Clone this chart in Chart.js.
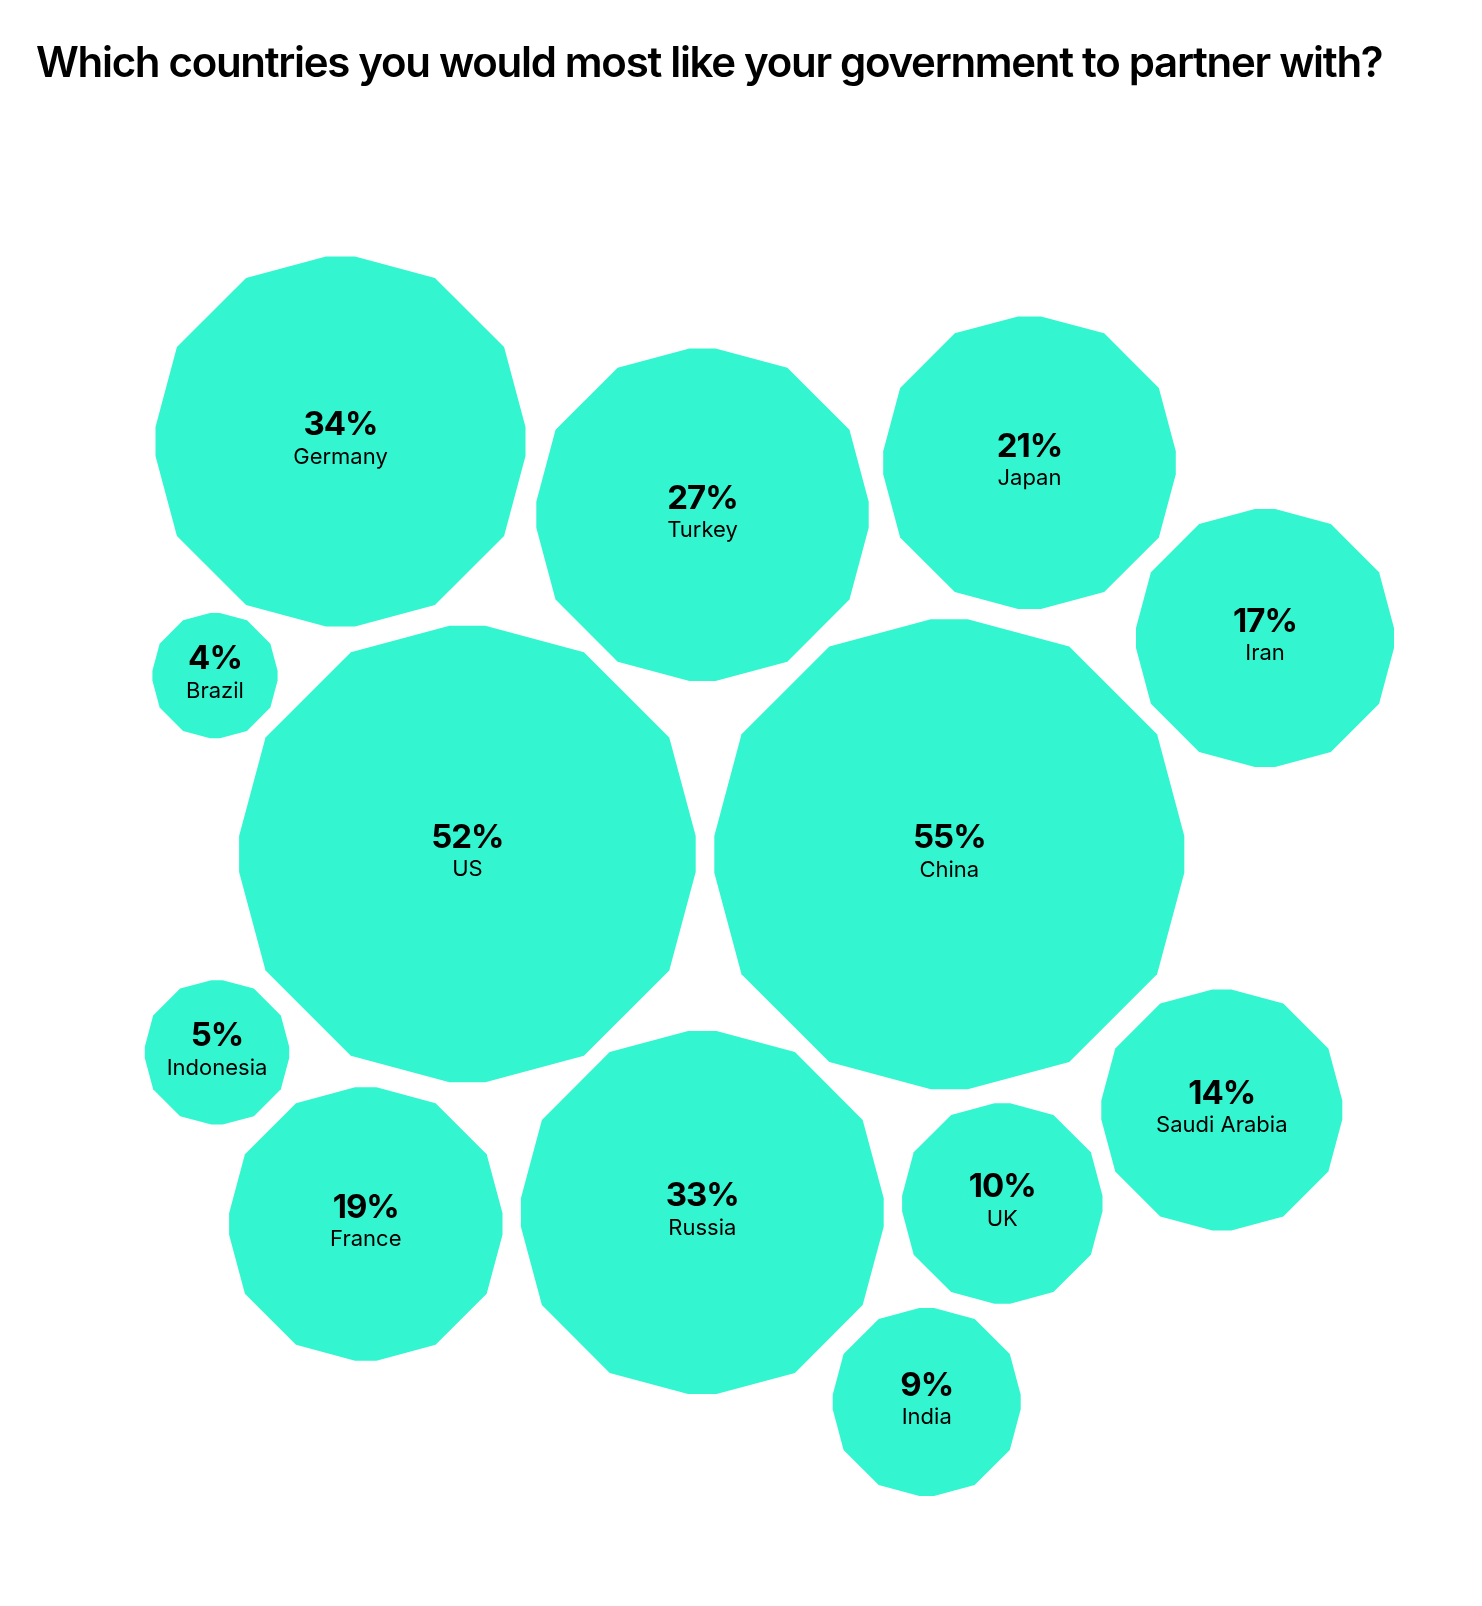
<!DOCTYPE html>
<html>
<head>
<meta charset="utf-8">
<title>Which countries you would most like your government to partner with?</title>
<script src="https://cdn.jsdelivr.net/npm/chart.js@4"></script>
<style>
  html, body { margin: 0; padding: 0; background: #fff; }
  #wrap { position: relative; width: 1482px; height: 1606px; }
</style>
</head>
<body>
<div id="wrap"><canvas id="bubbles"></canvas></div>
<script>
const titleText = 'Which countries you would most like your government to partner with?';
const countries = ['Germany', 'Turkey', 'Japan', 'Iran', 'Brazil', 'US', 'China', 'Indonesia', 'Saudi Arabia', 'Russia', 'UK', 'France', 'India'];
const shares = [34, 27, 21, 17, 4, 52, 55, 5, 14, 33, 10, 19, 9];

// packed layout, hidden axes run in the same units
const centreX = [340.5, 702.5, 1029.5, 1265, 215, 467.4, 949.3, 217, 1221.8, 702.3, 1002.3, 365.8, 926.7];
const centreY = [441.5, 514.7, 462.7, 638, 675.6, 854, 854.3, 1052.4, 1110, 1212.5, 1203.5, 1224, 1402];
const radii = [185, 166.2, 146.3, 129, 62.6, 228.3, 235, 72.2, 120.5, 181.4, 100.2, 136.7, 94];

const FILL = '#33f6d0';
const FONT = 'Inter, "Open Sans", sans-serif';

// 12-sided shape with its four axis tips cut flat, built from one quadrant
function polygonPath(ctx, x, y, r) {
  const tip = r * 1.021;
  const flat = (tip - r) / Math.tan(Math.PI / 12);
  const a = tip * 0.5;
  const b = tip * Math.cos(Math.PI / 6);
  const quad = [[flat, -r], [a, -b], [b, -a], [r, -flat]];
  ctx.beginPath();
  quad.forEach(p => ctx.lineTo(x + p[0], y + p[1]));
  quad.slice().reverse().forEach(p => ctx.lineTo(x + p[0], y - p[1]));
  quad.forEach(p => ctx.lineTo(x - p[0], y - p[1]));
  quad.slice().reverse().forEach(p => ctx.lineTo(x - p[0], y + p[1]));
  ctx.closePath();
}

const polygonBubbles = {
  id: 'polygonBubbles',
  beforeDraw(chart) {
    // the title is set tight
    chart.ctx.letterSpacing = '-1.3px';
  },
  afterDatasetsDraw(chart) {
    const ctx = chart.ctx;
    const points = chart.getDatasetMeta(0).data;
    ctx.save();
    points.forEach((point, i) => {
      const r = point.options.radius;
      ctx.fillStyle = FILL;
      polygonPath(ctx, point.x, point.y, r);
      ctx.fill();

      ctx.fillStyle = '#000';
      ctx.textAlign = 'center';
      ctx.textBaseline = 'alphabetic';
      ctx.letterSpacing = '-1px';
      ctx.font = '700 33px ' + FONT;
      ctx.fillText(shares[i] + '%', point.x, point.y - 6.2);
      ctx.letterSpacing = '0px';
      ctx.font = '400 22px ' + FONT;
      ctx.fillText(countries[i], point.x, point.y + 22.3);
    });
    ctx.restore();
  }
};

new Chart(document.getElementById('bubbles'), {
  type: 'bubble',
  data: {
    labels: countries,
    datasets: [{
      label: 'Share',
      data: countries.map((c, i) => ({ x: centreX[i], y: centreY[i], r: radii[i] })),
      backgroundColor: 'rgba(0,0,0,0)',
      borderWidth: 0,
      hoverRadius: 0
    }]
  },
  options: {
    responsive: true,
    maintainAspectRatio: false,
    animation: false,
    layout: { autoPadding: false, padding: { left: 36, right: 0, top: 0, bottom: 0 } },
    plugins: {
      legend: { display: false },
      tooltip: { enabled: false },
      title: {
        display: true,
        text: titleText,
        align: 'start',
        color: '#000',
        font: { family: FONT, size: 42, weight: '600', lineHeight: 1.2 },
        padding: { top: 39, bottom: 31 }
      }
    },
    scales: {
      x: { type: 'linear', display: false, min: 36, max: 1482 },
      y: { type: 'linear', display: false, min: 120.4, max: 1606, reverse: true }
    }
  },
  plugins: [polygonBubbles]
});
</script>
</body>
</html>
